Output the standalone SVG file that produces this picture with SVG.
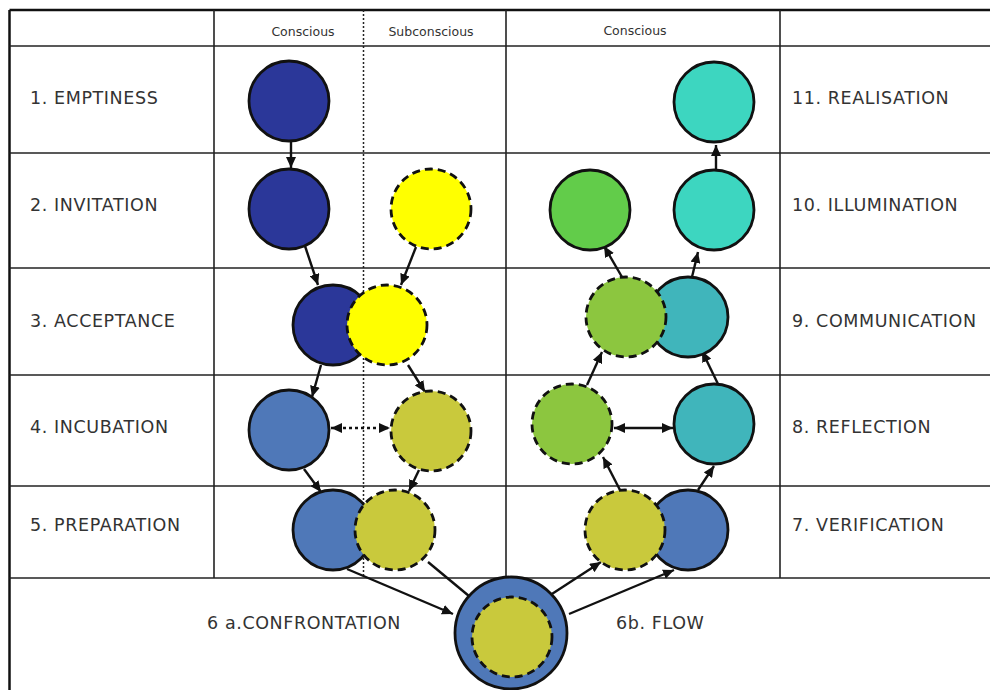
<svg xmlns="http://www.w3.org/2000/svg" width="990" height="690" viewBox="0 0 990 690">
  <style>
    .grid { stroke: #222; stroke-width: 1.6; fill: none; }
    .border { stroke: #111; stroke-width: 2.5; fill: none; }
    .dots { stroke: #222; stroke-width: 1.5; stroke-dasharray: 2 2; fill: none; }
    .label { font-family: "DejaVu Sans", Verdana, sans-serif; font-size: 17.5px; fill: #333; letter-spacing: 0.6px; }
    .head { font-family: "DejaVu Sans", Verdana, sans-serif; font-size: 12.5px; fill: #333; text-anchor: middle; }
    .node { stroke: #111; stroke-width: 2.8; }
    .dash { stroke-dasharray: 8 5; }
    .navy { fill: #2b3799; }
    .yellow { fill: #ffff00; }
    .olive { fill: #c9c93c; }
    .steel { fill: #4f78b8; }
    .green { fill: #62cc4a; }
    .lime { fill: #8cc63f; }
    .teal { fill: #40b5bb; }
    .aqua { fill: #3dd6c0; }
    .arrow { stroke: #111; stroke-width: 2.4; fill: none; marker-end: url(#head); }
    .both { marker-start: url(#headStart); }
    .dotted { stroke-dasharray: 3 3; }
  </style>
  <defs>
    <marker id="head" markerUnits="userSpaceOnUse" markerWidth="12" markerHeight="10" refX="11" refY="5" orient="auto">
      <path d="M0,0 L11,5 L0,10 z" fill="#111"/>
    </marker>
    <marker id="headStart" markerUnits="userSpaceOnUse" markerWidth="12" markerHeight="10" refX="11" refY="5" orient="auto-start-reverse">
      <path d="M0,0 L11,5 L0,10 z" fill="#111"/>
    </marker>
  </defs>

  <rect width="990" height="690" fill="#ffffff"/>

  <!-- table -->
  <g id="table">
    <line class="border" x1="9.5" y1="10" x2="990" y2="10"/>
    <line class="border" x1="9.5" y1="10" x2="9.5" y2="690"/>
    <line class="grid" x1="9.5" y1="46" x2="990" y2="46"/>
    <line class="grid" x1="9.5" y1="153" x2="990" y2="153"/>
    <line class="grid" x1="9.5" y1="268" x2="990" y2="268"/>
    <line class="grid" x1="9.5" y1="375" x2="990" y2="375"/>
    <line class="grid" x1="9.5" y1="486" x2="990" y2="486"/>
    <line class="grid" x1="9.5" y1="578" x2="990" y2="578"/>
    <line class="grid" x1="214" y1="10" x2="214" y2="578"/>
    <line class="grid" x1="506" y1="10" x2="506" y2="578"/>
    <line class="grid" x1="780" y1="10" x2="780" y2="578"/>
    <line class="dots" x1="363.5" y1="10" x2="363.5" y2="578"/>
  </g>

  <!-- column headings -->
  <g id="headings">
    <text class="head" x="303" y="36">Conscious</text>
    <text class="head" x="431" y="36">Subconscious</text>
    <text class="head" x="635" y="35">Conscious</text>
  </g>

  <!-- stage labels -->
  <g id="labels-left">
    <text class="label" x="30" y="104">1. EMPTINESS</text>
    <text class="label" x="30" y="211">2. INVITATION</text>
    <text class="label" x="30" y="327">3. ACCEPTANCE</text>
    <text class="label" x="30" y="433">4. INCUBATION</text>
    <text class="label" x="30" y="531">5. PREPARATION</text>
  </g>
  <g id="labels-right">
    <text class="label" x="792" y="104">11. REALISATION</text>
    <text class="label" x="792" y="211">10. ILLUMINATION</text>
    <text class="label" x="792" y="327">9. COMMUNICATION</text>
    <text class="label" x="792" y="433">8. REFLECTION</text>
    <text class="label" x="792" y="531">7. VERIFICATION</text>
  </g>
  <g id="labels-bottom">
    <text class="label" x="207" y="629">6 a.CONFRONTATION</text>
    <text class="label" x="616" y="629">6b. FLOW</text>
  </g>

  <!-- connectors -->
  <g id="connectors">
    <line class="arrow" x1="291" y1="141" x2="291" y2="168"/>
    <line class="arrow" x1="305" y1="246" x2="318" y2="285"/>
    <line class="arrow" x1="416" y1="247" x2="401" y2="285"/>
    <line class="arrow" x1="321" y1="365" x2="312" y2="397"/>
    <line class="arrow" x1="408" y1="365" x2="425" y2="392"/>
    <line class="arrow both dotted" x1="331" y1="428" x2="390" y2="428"/>
    <line class="arrow" x1="304" y1="469" x2="321" y2="492"/>
    <line class="arrow" x1="419" y1="470" x2="409" y2="491"/>
    <line class="arrow" x1="347" y1="569" x2="453" y2="614"/>
    <line class="arrow" x1="428" y1="562" x2="481" y2="606"/>
    <line class="arrow" x1="535" y1="605" x2="601" y2="562"/>
    <line class="arrow" x1="569" y1="614" x2="674" y2="570"/>
    <line class="arrow" x1="620" y1="490" x2="603" y2="457"/>
    <line class="arrow" x1="698" y1="490" x2="714" y2="466"/>
    <line class="arrow both" x1="614" y1="428" x2="673" y2="428"/>
    <line class="arrow" x1="587" y1="385" x2="602" y2="352"/>
    <line class="arrow" x1="718" y1="384" x2="702" y2="351"/>
    <line class="arrow" x1="622" y1="277" x2="604" y2="246"/>
    <line class="arrow" x1="692" y1="277" x2="698" y2="252"/>
    <line class="arrow" x1="716" y1="170" x2="716" y2="145"/>
  </g>

  <!-- stage nodes -->
  <g id="n1-emptiness"><circle class="node navy" cx="289" cy="101" r="40"/></g>
  <g id="n2-invitation-conscious"><circle class="node navy" cx="289" cy="209" r="40"/></g>
  <g id="n2-invitation-subconscious"><circle class="node dash yellow" cx="431" cy="209" r="40"/></g>
  <g id="n3-acceptance">
    <circle class="node navy" cx="333" cy="325" r="40"/>
    <circle class="node dash yellow" cx="387" cy="325" r="40"/>
  </g>
  <g id="n4-incubation-conscious"><circle class="node steel" cx="289" cy="430" r="40"/></g>
  <g id="n4-incubation-subconscious"><circle class="node dash olive" cx="431" cy="431" r="40"/></g>
  <g id="n5-preparation">
    <circle class="node steel" cx="333" cy="530" r="40"/>
    <circle class="node dash olive" cx="395" cy="530" r="40"/>
  </g>
  <g id="n6-confrontation-flow">
    <circle class="node steel" cx="511" cy="633" r="56"/>
    <circle class="node dash olive" cx="512" cy="637" r="40"/>
  </g>
  <g id="n7-verification">
    <circle class="node steel" cx="688" cy="530" r="40"/>
    <circle class="node dash olive" cx="625" cy="530" r="40"/>
  </g>
  <g id="n8-reflection-subconscious"><circle class="node dash lime" cx="572" cy="424" r="40"/></g>
  <g id="n8-reflection-conscious"><circle class="node teal" cx="714" cy="424" r="40"/></g>
  <g id="n9-communication">
    <circle class="node teal" cx="688" cy="317" r="40"/>
    <circle class="node dash lime" cx="626" cy="317" r="40"/>
  </g>
  <g id="n10-illumination-left"><circle class="node green" cx="590" cy="210" r="40"/></g>
  <g id="n10-illumination-right"><circle class="node aqua" cx="714" cy="210" r="40"/></g>
  <g id="n11-realisation"><circle class="node aqua" cx="714" cy="102" r="40"/></g>
</svg>
